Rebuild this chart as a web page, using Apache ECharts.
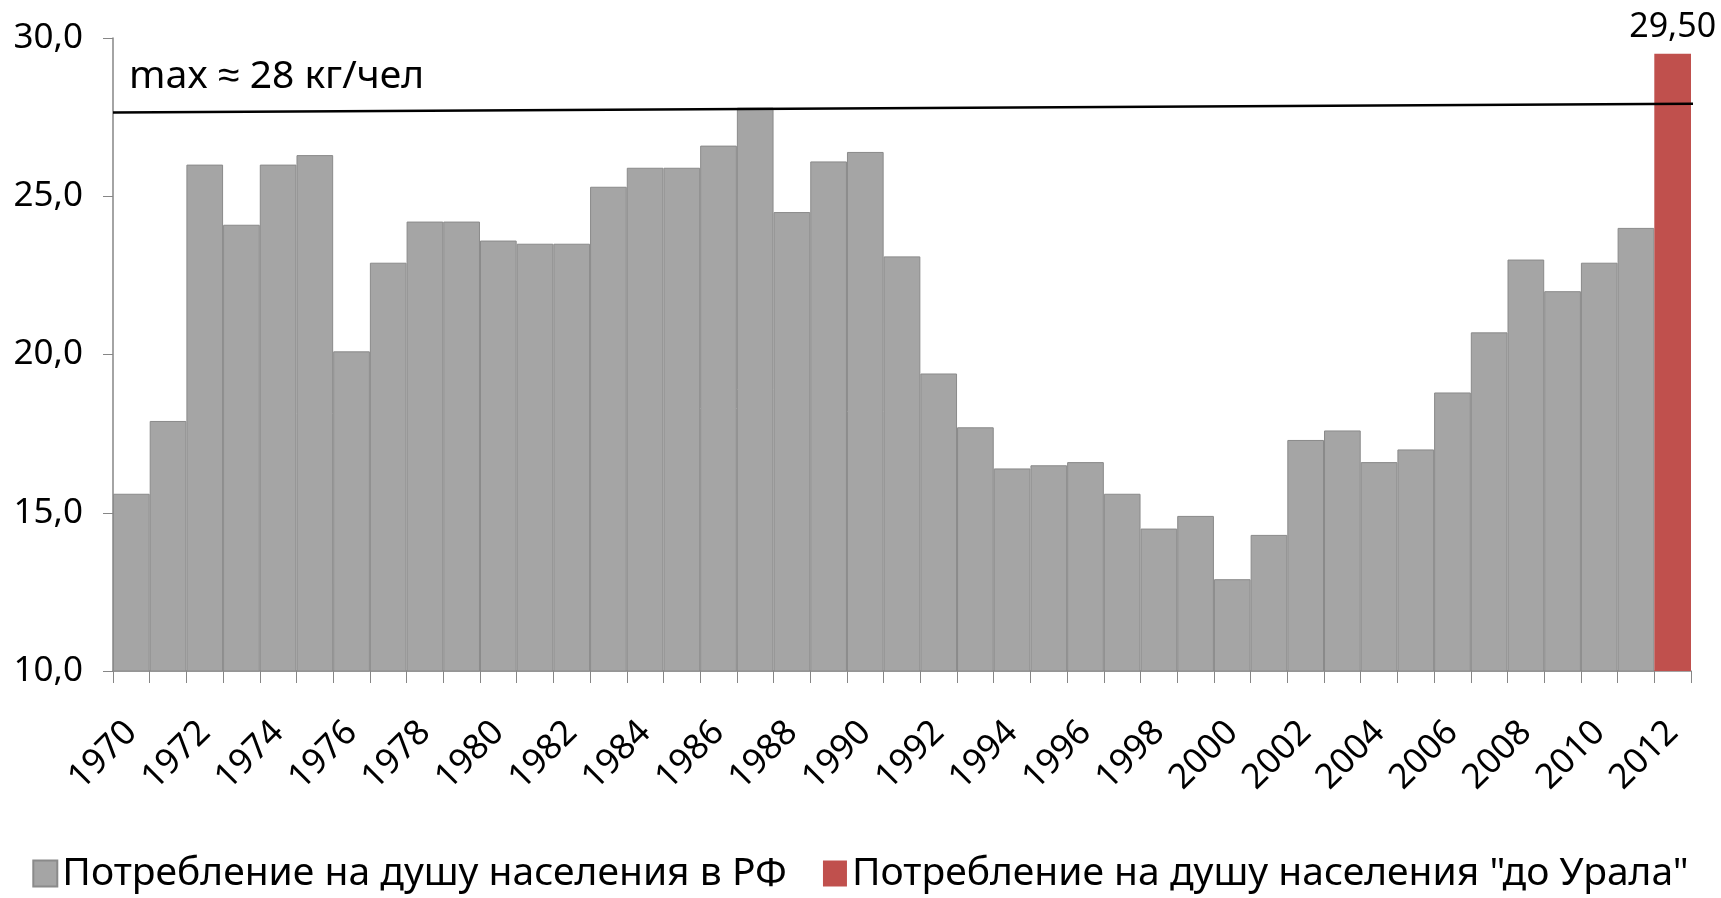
<!DOCTYPE html>
<html>
<head>
<meta charset="utf-8">
<script src="https://cdn.jsdelivr.net/npm/echarts@6/dist/echarts.min.js"></script>
<style>
html, body { margin: 0; padding: 0; background: #fff; }
#chart { width: 1721px; height: 898px; }
</style>
</head>
<body>
<div id="chart"></div>
<script>
var years = [];
for (var y = 1970; y <= 2012; y++) years.push(String(y));

// потребление на душу населения в РФ, кг/чел (1970-2011)
var rfData = [15.6, 17.9, 26.0, 24.1, 26.0, 26.3, 20.1, 22.9, 24.2, 24.2,
              23.6, 23.5, 23.5, 25.3, 25.9, 25.9, 26.6, 27.8, 24.5, 26.1,
              26.4, 23.1, 19.4, 17.7, 16.4, 16.5, 16.6, 15.6, 14.5, 14.9,
              12.9, 14.3, 17.3, 17.6, 16.6, 17.0, 18.8, 20.7, 23.0, 22.0,
              22.9, 24.0, '-'];
// "до Урала" - только 2012
var uralData = [];
for (var i = 0; i < 42; i++) uralData.push('-');
uralData.push(29.5);

// линия max ~ 28 (слегка наклонная, как в оригинале)
var maxLine = [[0, 27.65], [43.2, 27.92]];

var seriesNames = ['Потребление на душу населения в РФ', 'Потребление на душу населения "до Урала"'];
var font = '"Noto Sans", sans-serif';

var myChart = echarts.init(document.getElementById('chart'));
var option = {
    animation: false,
    title: {
        text: 'max ≈ 28 кг/чел',
        left: 124,
        top: 52,
        textStyle: { fontFamily: font, fontSize: 39, fontWeight: 'normal', color: '#000' }
    },
    grid: { left: 113, right: 30, top: 38, bottom: 227, containLabel: false },
    legend: {
        bottom: 0,
        left: 'center',
        icon: 'rect',
        itemWidth: 24,
        itemHeight: 26,
        itemGap: 36,
        data: seriesNames,
        textStyle: { fontFamily: font, fontSize: 39, color: '#000' }
    },
    xAxis: [{
        type: 'category',
        data: years,
        axisLine: { lineStyle: { color: '#868686', width: 1.5 } },
        axisTick: { show: true, interval: 0, length: 12, lineStyle: { color: '#868686' } },
        axisLabel: {
            interval: 1,
            rotate: 45,
            margin: 56,
            fontFamily: font,
            fontSize: 35,
            color: '#000'
        }
    }, {
        type: 'value',
        min: 0,
        max: 43,
        show: false
    }],
    yAxis: {
        type: 'value',
        min: 10,
        max: 30,
        interval: 5,
        axisLine: { show: true, lineStyle: { color: '#868686', width: 1.5 } },
        axisTick: { show: true, length: 10, lineStyle: { color: '#868686' } },
        splitLine: { show: false },
        axisLabel: {
            margin: 30,
            fontFamily: font,
            fontSize: 35,
            color: '#000',
            formatter: function (v) { return v.toFixed(1).replace('.', ','); }
        }
    },
    series: [{
        name: seriesNames[0],
        type: 'bar',
        data: rfData,
        barGap: '-100%',
        barCategoryGap: '0%',
        itemStyle: { color: '#a5a5a5', borderColor: '#8a8a8a', borderWidth: 1 }
    }, {
        name: seriesNames[1],
        type: 'bar',
        data: uralData,
        barGap: '-100%',
        barCategoryGap: '0%',
        itemStyle: { color: '#c0504d' },
        label: {
            show: true,
            position: 'top',
            distance: 10,
            fontFamily: font,
            fontSize: 34,
            color: '#000',
            formatter: function (p) { return p.value.toFixed(2).replace('.', ','); }
        }
    }, {
        type: 'line',
        xAxisIndex: 1,
        data: maxLine,
        symbol: 'none',
        clip: false,
        silent: true,
        lineStyle: { color: '#000', width: 2.5 },
        z: 5
    }]
};
myChart.setOption(option);
</script>
</body>
</html>
